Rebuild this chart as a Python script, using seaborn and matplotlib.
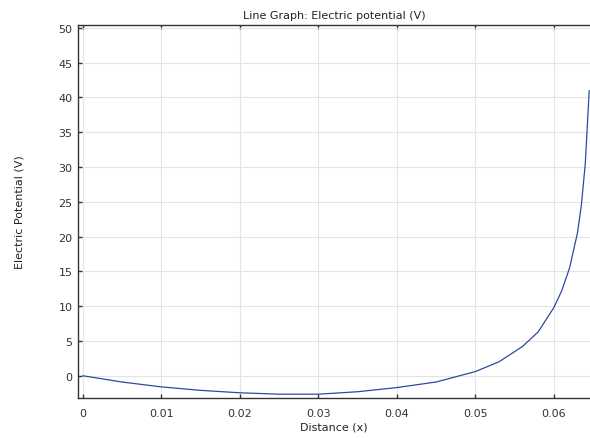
import matplotlib
matplotlib.use("Agg")
import matplotlib.pyplot as plt
import seaborn as sns
import numpy as np
import pandas as pd

# waarden
afstand = [0, 0.005, 0.01, 0.015, 0.02, 0.025, 0.03, 0.035, 0.04, 0.045,
           0.05, 0.053, 0.056, 0.058, 0.06, 0.061, 0.062, 0.063, 0.0635, 0.064, 0.0645]
potentiaal = [0, -0.9, -1.6, -2.1, -2.45, -2.65, -2.65, -2.3, -1.7, -0.9,
              0.6, 2.0, 4.2, 6.3, 9.8, 12.2, 15.5, 20.5, 24.5, 30.5, 41]

x_ticks = [0, 0.01, 0.02, 0.03, 0.04, 0.05, 0.06]
x_labels = ["0", "0.01", "0.02", "0.03", "0.04", "0.05", "0.06"]
y_ticks = [0, 5, 10, 15, 20, 25, 30, 35, 40, 45, 50]

df = pd.DataFrame({"afstand": afstand, "potentiaal": potentiaal})

sns.set_style("white")
plt.rcParams["font.family"] = ["DejaVu Sans"]

fig = plt.figure(figsize=(5.9, 4.39), dpi=100)
ax = fig.add_axes([0.1322, 0.0911, 0.8678, 0.8497])

sns.lineplot(data=df, x="afstand", y="potentiaal", ax=ax, color="#2e4b9b", linewidth=0.9)

ax.set_xlim(-0.0006, 0.0646)
ax.set_ylim(-3.2, 50.4)
ax.set_xticks(x_ticks)
ax.set_xticklabels(x_labels)
ax.set_yticks(y_ticks)
ax.grid(True, color="#e4e4e4", linewidth=0.8)
ax.set_axisbelow(True)

for kant in ["left", "bottom", "top"]:
    ax.spines[kant].set_color("#333333")
    ax.spines[kant].set_linewidth(1.0)
ax.spines["right"].set_visible(False)

ax.tick_params(axis="both", direction="in", length=3, width=1, labelsize=8,
               colors="#333333", top=True, left=True, bottom=True, pad=7)
ax.tick_params(axis="y", pad=4)

ax.set_xlabel("Distance (x)", fontsize=8, color="#222222", labelpad=2.5)
ax.set_ylabel("Electric Potential (V)", fontsize=8, color="#222222", labelpad=24)
ax.set_title("Line Graph: Electric potential (V)", fontsize=8, color="#222222", pad=5)

fig.savefig("out.png", dpi=100)
